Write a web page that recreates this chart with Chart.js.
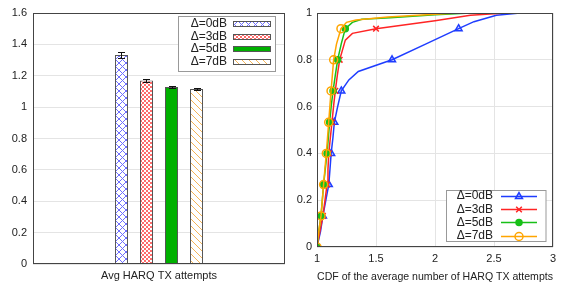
<!DOCTYPE html>
<html>
<head>
<meta charset="utf-8">
<script src="https://cdn.jsdelivr.net/npm/chart.js@4.4.1/dist/chart.umd.min.js"></script>
<style>
html, body { margin: 0; padding: 0; background: #fff; }
#wrap { position: relative; width: 568px; height: 287px; overflow: hidden; }
#left { position: absolute; left: 0; top: 0; }
#right { position: absolute; left: 290px; top: 0; }
</style>
</head>
<body>
<div id="wrap">
  <canvas id="left" width="290" height="287"></canvas>
  <canvas id="right" width="278" height="287"></canvas>
</div>
<script>
// Datos
const SERIES_LABELS = ['Δ=0dB', 'Δ=3dB', 'Δ=5dB', 'Δ=7dB'];
const BAR_CATEGORY = ['Avg HARQ TX attempts'];
const AVG_ATTEMPTS = [1.332, 1.170, 1.128, 1.115];
const AVG_ERROR = [0.020, 0.008, 0.004, 0.004];
const LEFT_Y_TICKS = [0, 0.2, 0.4, 0.6, 0.8, 1, 1.2, 1.4, 1.6];

const RIGHT_X_TICKS = [1, 1.5, 2, 2.5, 3];
const RIGHT_Y_TICKS = [0, 0.2, 0.4, 0.6, 0.8, 1];
const MARKER_LEVELS = [0, 0.133, 0.267, 0.4, 0.533, 0.667, 0.8, 0.933];

const CDF_X_0DB = [1.00, 1.03, 1.05, 1.075, 1.10, 1.11, 1.12, 1.135, 1.147, 1.175, 1.206, 1.27, 1.35, 1.636, 1.92, 2.20, 2.33, 2.52, 2.72, 3.0];
const CDF_Y_0DB = [0, 0.067, 0.133, 0.2, 0.267, 0.333, 0.4, 0.467, 0.533, 0.6, 0.667, 0.714, 0.75, 0.8, 0.867, 0.933, 0.963, 0.99, 1, 1];
const CDF_X_3DB = [1.00, 1.025, 1.05, 1.068, 1.085, 1.093, 1.10, 1.113, 1.127, 1.14, 1.155, 1.172, 1.192, 1.24, 1.30, 1.50, 2.0, 2.3, 2.6, 3.0];
const CDF_Y_3DB = [0, 0.067, 0.133, 0.2, 0.267, 0.333, 0.4, 0.467, 0.533, 0.6, 0.667, 0.733, 0.8, 0.884, 0.913, 0.933, 0.967, 0.99, 1, 1];
const CDF_X_5DB = [1.00, 1.015, 1.034, 1.045, 1.056, 1.07, 1.085, 1.096, 1.107, 1.12, 1.136, 1.155, 1.175, 1.205, 1.24, 1.30, 1.38, 1.62, 2.0, 2.3, 3.0];
const CDF_Y_5DB = [0, 0.067, 0.133, 0.2, 0.267, 0.333, 0.4, 0.467, 0.533, 0.6, 0.667, 0.733, 0.8, 0.867, 0.933, 0.96, 0.973, 0.98, 0.992, 1, 1];
const CDF_X_7DB = [1.00, 1.015, 1.034, 1.045, 1.056, 1.067, 1.079, 1.089, 1.099, 1.109, 1.119, 1.13, 1.141, 1.165, 1.203, 1.25, 1.33, 1.6, 2.0, 2.2, 3.0];
const CDF_Y_7DB = [0, 0.067, 0.133, 0.2, 0.267, 0.333, 0.4, 0.467, 0.533, 0.6, 0.667, 0.733, 0.8, 0.867, 0.933, 0.96, 0.97, 0.983, 0.995, 1, 1];

const FONT = 'Liberation Sans, Arial, sans-serif';
const INK = '#222';
const GRID = '#e4e4e4';
const FRAME = '#444';
const BAR_EDGE = '#555';
const LINE_COLORS = ['#1f3dff', '#ff2424', '#18c018', '#ffa500'];

Chart.defaults.font.family = FONT;
Chart.defaults.color = INK;

function makePattern(kind) {
    const c = document.createElement('canvas');
    const ctx = c.getContext('2d');
    if (kind === 'check') {
        c.width = c.height = 4;
        ctx.fillStyle = '#fff'; ctx.fillRect(0, 0, 4, 4);
        ctx.fillStyle = '#ff6b6b';
        ctx.fillRect(0, 0, 2, 2); ctx.fillRect(2, 2, 2, 2);
        return ctx.createPattern(c, 'repeat');
    }
    const s = 7;
    c.width = c.height = s;
    ctx.fillStyle = '#fff'; ctx.fillRect(0, 0, s, s);
    ctx.lineWidth = 1;
    ctx.strokeStyle = kind === 'cross' ? '#6f6fff' : '#f5b558';
    for (const k of [-s, 0, s]) {
        ctx.beginPath(); ctx.moveTo(k, 0); ctx.lineTo(k + s, s); ctx.stroke();
        if (kind === 'cross') { ctx.beginPath(); ctx.moveTo(k + s, 0); ctx.lineTo(k, s); ctx.stroke(); }
    }
    return ctx.createPattern(c, 'repeat');
}

const BAR_FILLS = [makePattern('cross'), makePattern('check'), '#00b000', makePattern('diag')];

const framePlugin = {
    id: 'frame',
    afterDatasetsDraw(chart) {
        const a = chart.chartArea, ctx = chart.ctx;
        ctx.save();
        ctx.strokeStyle = FRAME; ctx.lineWidth = 1;
        ctx.strokeRect(Math.round(a.left) + 0.5, Math.round(a.top) + 0.5, Math.round(a.right - a.left) - 1, Math.round(a.bottom - a.top) - 1);
        ctx.restore();
    },
};

const errorBarPlugin = {
    id: 'errorBars',
    afterDatasetsDraw(chart) {
        const ctx = chart.ctx, y = chart.scales.y;
        ctx.save();
        ctx.strokeStyle = '#111'; ctx.lineWidth = 1;
        AVG_ATTEMPTS.forEach((v, i) => {
            const bar = chart.getDatasetMeta(i).data[0];
            const x = Math.round(bar.x) + 0.5;
            const yt = Math.round(y.getPixelForValue(v + AVG_ERROR[i])) + 0.5;
            const yb = Math.round(y.getPixelForValue(v - AVG_ERROR[i])) + 0.5;
            ctx.beginPath();
            ctx.moveTo(x, yt); ctx.lineTo(x, yb);
            ctx.moveTo(x - 3.5, yt); ctx.lineTo(x + 3.5, yt);
            ctx.moveTo(x - 3.5, yb); ctx.lineTo(x + 3.5, yb);
            ctx.stroke();
        });
        ctx.restore();
    },
};

const barLegendPlugin = {
    id: 'barLegend',
    afterDraw(chart) {
        const ctx = chart.ctx;
        const rows = [24, 36.5, 49, 61.5];
        ctx.save();
        ctx.fillStyle = '#fff'; ctx.fillRect(178.5, 16.5, 97, 55);
        ctx.strokeStyle = '#999'; ctx.lineWidth = 1; ctx.strokeRect(178.5, 16.5, 97, 55);
        ctx.font = '12px ' + FONT; ctx.textAlign = 'right'; ctx.textBaseline = 'middle';
        SERIES_LABELS.forEach((lab, i) => {
            ctx.fillStyle = INK; ctx.fillText(lab, 227, rows[i]);
            const top = Math.round(rows[i] - 3) + 0.5;
            ctx.fillStyle = BAR_FILLS[i]; ctx.fillRect(233.5, top, 37, 5);
            ctx.strokeStyle = BAR_EDGE; ctx.strokeRect(233.5, top, 37, 5);
        });
        ctx.restore();
    },
};

function fixedTicks(values) {
    return (scale) => { scale.ticks = values.map((v) => ({ value: v })); };
}
const fmt = (v) => String(Number(v.toFixed(2)));

new Chart(document.getElementById('left'), {
    type: 'bar',
    data: {
        labels: BAR_CATEGORY,
        datasets: SERIES_LABELS.map((lab, i) => ({
            label: lab,
            data: [AVG_ATTEMPTS[i]],
            backgroundColor: BAR_FILLS[i],
            borderColor: BAR_EDGE,
            borderWidth: 1,
            categoryPercentage: 0.397,
            barPercentage: 0.52,
        })),
    },
    options: {
        responsive: false,
        animation: false,
        devicePixelRatio: 1,
        layout: { padding: { top: 13, right: 5, left: 0, bottom: 0 } },
        plugins: { legend: { display: false }, tooltip: { enabled: false } },
        scales: {
            x: {
                grid: { display: false, drawTicks: false, tickLength: 0 },
                border: { display: false },
                ticks: { font: { size: 11 }, color: INK, padding: 5 },
                afterFit: (s) => { s.height = 23; },
            },
            y: {
                min: 0, max: 1.6,
                afterBuildTicks: fixedTicks(LEFT_Y_TICKS),
                grid: { color: GRID, drawTicks: false },
                border: { display: false },
                ticks: { font: { size: 11 }, color: INK, padding: 6, callback: fmt },
                afterFit: (s) => { s.width = 33; },
            },
        },
    },
    plugins: [framePlugin, errorBarPlugin, barLegendPlugin],
});

const CDF_SETS = [
    { xs: CDF_X_0DB, ys: CDF_Y_0DB, style: 'triangle', radius: 4, fill: 'rgba(31,61,255,0.15)' },
    { xs: CDF_X_3DB, ys: CDF_Y_3DB, style: 'crossRot', radius: 4, fill: LINE_COLORS[1] },
    { xs: CDF_X_5DB, ys: CDF_Y_5DB, style: 'circle', radius: 3, fill: LINE_COLORS[2] },
    { xs: CDF_X_7DB, ys: CDF_Y_7DB, style: 'circle', radius: 4, fill: 'rgba(0,0,0,0)' },
];

const isMarker = (y) => MARKER_LEVELS.some((m) => Math.abs(m - y) < 0.002);

const lineLegendPlugin = {
    id: 'lineLegend',
    afterDraw(chart) {
        const ctx = chart.ctx;
        const rows = [196, 209.3, 222.3, 235.7];
        ctx.save();
        ctx.fillStyle = '#fff'; ctx.fillRect(156.5, 190.5, 99.5, 51);
        ctx.strokeStyle = '#999'; ctx.lineWidth = 1; ctx.strokeRect(156.5, 190.5, 99.5, 51);
        ctx.font = '12px ' + FONT; ctx.textAlign = 'right'; ctx.textBaseline = 'middle';
        SERIES_LABELS.forEach((lab, i) => {
            const y = Math.round(rows[i]) + 0.5;
            ctx.fillStyle = INK; ctx.fillText(lab, 203, rows[i]);
            ctx.strokeStyle = LINE_COLORS[i]; ctx.lineWidth = 1.5;
            ctx.beginPath(); ctx.moveTo(211, y); ctx.lineTo(247, y); ctx.stroke();
            ctx.fillStyle = CDF_SETS[i].fill;
            Chart.helpers.drawPoint(ctx, { pointStyle: CDF_SETS[i].style, radius: CDF_SETS[i].radius, rotation: 0, borderWidth: 1.5 }, 229, y);
        });
        ctx.restore();
    },
};

new Chart(document.getElementById('right'), {
    type: 'line',
    data: {
        datasets: CDF_SETS.map((s, i) => ({
            label: SERIES_LABELS[i],
            data: s.xs.map((x, j) => ({ x, y: s.ys[j] })),
            borderColor: LINE_COLORS[i],
            backgroundColor: s.fill,
            pointBorderColor: LINE_COLORS[i],
            pointBackgroundColor: s.fill,
            pointStyle: s.style,
            pointRadius: s.ys.map((y) => (isMarker(y) ? s.radius : 0)),
            pointBorderWidth: 1.5,
            borderWidth: 1.5,
            tension: 0,
            fill: false,
            order: 3 - i,
        })),
    },
    options: {
        responsive: false,
        animation: false,
        devicePixelRatio: 1,
        layout: { padding: { top: 13, right: 15, left: 0, bottom: 0 } },
        plugins: { legend: { display: false }, tooltip: { enabled: false } },
        scales: {
            x: {
                type: 'linear', min: 1, max: 3,
                afterBuildTicks: fixedTicks(RIGHT_X_TICKS),
                grid: { color: GRID, drawTicks: false },
                border: { display: false },
                ticks: { font: { size: 11 }, color: INK, padding: 5, callback: fmt },
                title: { display: true, text: 'CDF of the average number of HARQ TX attempts', font: { size: 11 }, color: INK, padding: { top: 0, bottom: 3 } },
                afterFit: (s) => { s.height = 40; },
            },
            y: {
                min: 0, max: 1,
                afterBuildTicks: fixedTicks(RIGHT_Y_TICKS),
                grid: { color: GRID, drawTicks: false },
                border: { display: false },
                ticks: { font: { size: 11 }, color: INK, padding: 5, callback: fmt },
                afterFit: (s) => { s.width = 27; },
            },
        },
    },
    plugins: [framePlugin, lineLegendPlugin],
});
</script>
</body>
</html>
